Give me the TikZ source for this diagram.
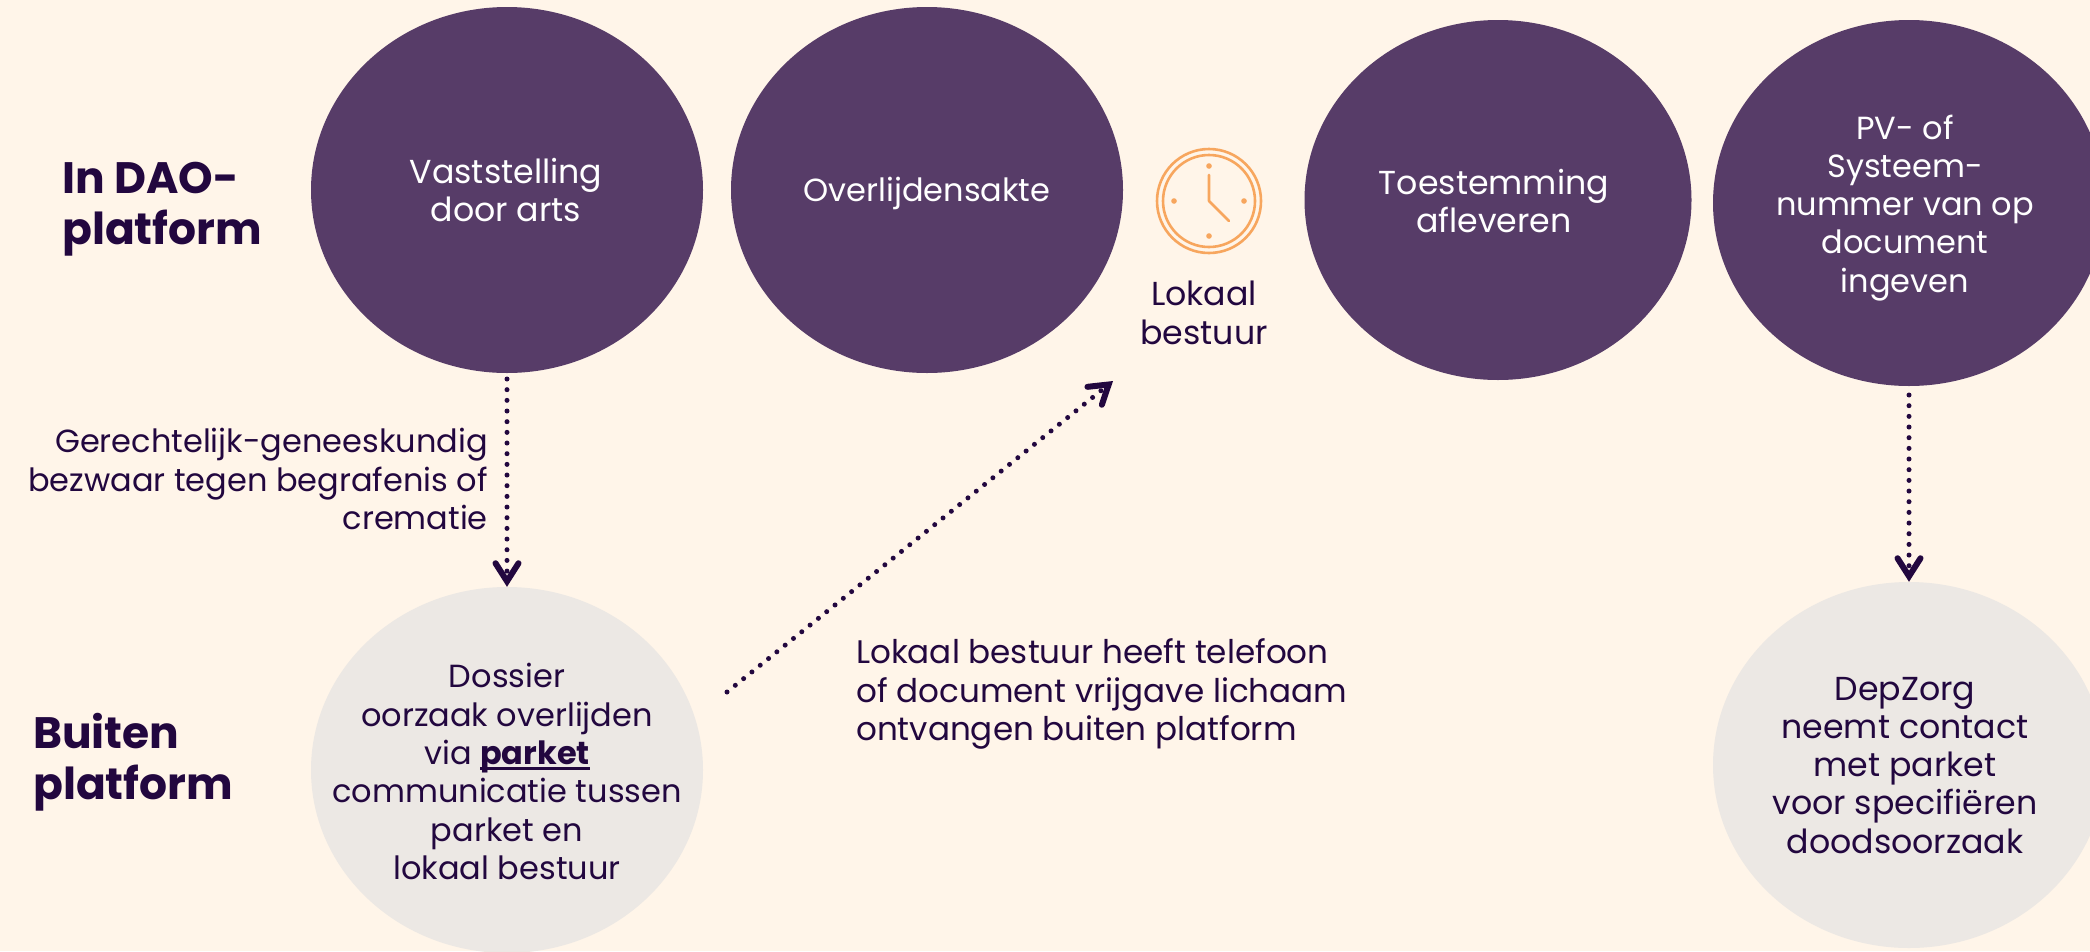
\documentclass[tikz,border=0pt]{standalone}
\usepackage{fontspec}
\setmainfont{Poppins}
\usetikzlibrary{shapes.geometric,arrows.meta}
\definecolor{bgc}{HTML}{FFF5E9}
\definecolor{plum}{HTML}{573C68}
\definecolor{greyc}{HTML}{ECE8E4}
\definecolor{ink}{HTML}{22073F}
\definecolor{clockc}{HTML}{F7A65E}
\newcommand\nudged[3]{\raisebox{-#2}[\height][\depth]{\begin{tabular}{@{}c@{}}#3\end{tabular}}\hspace*{#1}}
\newcommand\thinunder[1]{{\setbox0=\hbox{#1}\rlap{\rule[-5pt]{\wd0}{2.2pt}}\box0}}
\tikzset{
  x=1pt,y=-1pt,
  body/.style={font=\fontsize{32}{38.3}\selectfont,inner sep=0pt},
  wide/.style={font=\fontsize{33.2}{38.3}\selectfont},
  bubble/.style={ellipse,minimum width=392,minimum height=366,body,inner sep=-60pt,align=center},
  inplat/.style={bubble,fill=plum,text=white},
  outplat/.style={bubble,fill=greyc,text=ink},
  lane/.style={font=\fontsize{44}{51}\selectfont\bfseries,text=ink,align=left,inner sep=0pt,anchor=west},
  note/.style={body,text=ink},
  flow/.style={ink,line width=5pt,line cap=round,dash pattern=on 0pt off 10.67pt,
     -{Straight Barb[length=18pt,width=23pt,line width=6pt,line cap=round]}},
  clockline/.style={clockc,line width=2.6pt,fill=none},
}
\begin{document}
\begin{tikzpicture}
\useasboundingbox (0,0) rectangle (2090,951);
\clip (0,0) rectangle (2090,951);
\fill[bgc] (0,0) rectangle (2090,951);
\node[inplat,wide] (vast) at (507,190) {\nudged{2pt}{5pt}{Vaststelling\\door arts}};
\node[inplat] (akte) at (927,190) {\nudged{0pt}{4pt}{Overlijdensakte}};
\node[inplat,wide,minimum width=387,minimum height=360] (toe) at (1498,200) {\nudged{8pt}{6pt}{Toestemming\\afleveren}};
\node[inplat] (pv) at (1909,203) {\nudged{8pt}{5pt}{PV- of\\Systeem-\\nummer van op\\document\\ingeven}};
\node[outplat] (dos) at (507,770) {\nudged{0pt}{6pt}{Dossier\\oorzaak overlijden\\via \textbf{\thinunder{parket}}\\communicatie tussen\\parket en\\lokaal bestuur}};
\node[outplat,wide] (dep) at (1909,765) {\nudged{8pt}{4pt}{DepZorg\\neemt contact\\met parket\\voor specifiëren\\doodsoorzaak}};
\node[lane] (l1) at (62,209) {In DAO-\\platform};
\node[lane] (l2) at (33,762) {Buiten\\platform};
\node[note,align=right,anchor=east] (gg) at (488,479) {Gerechtelijk-geneeskundig\\bezwaar tegen begrafenis of\\crematie};
\node[note,font=\fontsize{32.6}{38.3}\selectfont,align=left,anchor=west] (lb) at (856,694) {Lokaal bestuur heeft telefoon\\of document vrijgave lichaam\\ontvangen buiten platform};
\node[note,wide,align=center] (lok) at (1204,313) {Lokaal\\bestuur};
\node[circle,draw=clockc,line width=2.6pt,minimum size=104,inner sep=0pt] (clk) at (1209,201) {};
\draw[clockline] (clk.center) circle (46);
\foreach \a in {0,90,180,270}{\fill[clockc] (clk.center) ++(\a:35) circle (2.8);}
\draw[clockline,line cap=round,line join=round] (1209,175) -- (clk.center) -- (1229,221);
\coordinate (a1s) at (507,379);
\coordinate (a2s) at (727,692);
\coordinate (a2e) at (1113,381);
\coordinate (a3s) at (1909,395);
\draw[flow] (a1s) -- (dos.north);
\draw[flow] (a2s) -- (a2e);
\draw[flow] (a3s) -- (dep.north);
\end{tikzpicture}
\end{document}
